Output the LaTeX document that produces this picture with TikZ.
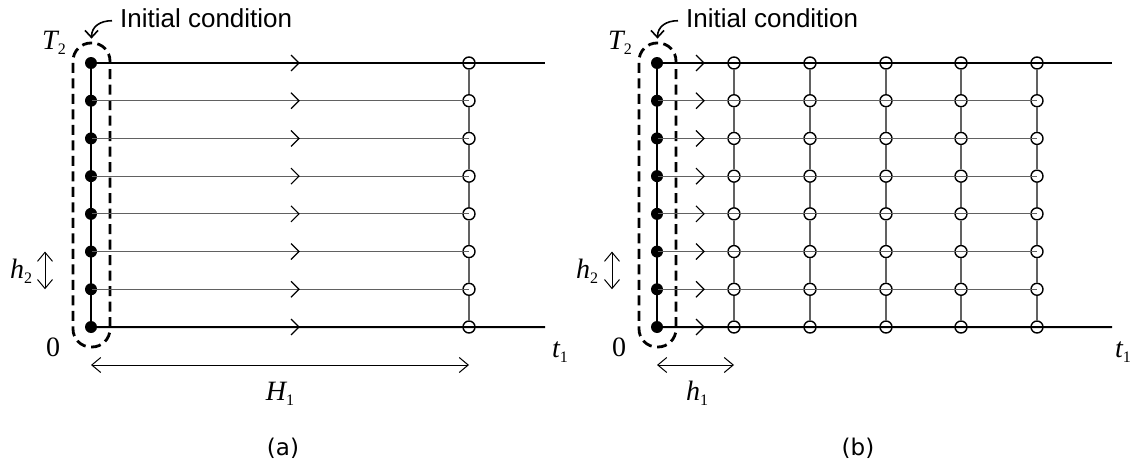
\documentclass[tikz,border=0pt]{standalone}
\usepackage{fontspec}
\setmainfont{Liberation Serif}
\newfontfamily\sansf{Liberation Sans}
\newfontfamily\capf{DejaVu Sans}
\usetikzlibrary{arrows.meta,calc}
\newcommand{\mlab}[2]{{\fontsize{28}{30}\selectfont\itshape #1}\raisebox{-5pt}{\fontsize{16}{18}\selectfont #2}}
\newcommand{\zlab}{{\fontsize{28}{30}\selectfont 0}}
\begin{document}
\begin{tikzpicture}[x=1pt,y=-1pt,
  thickln/.style={line width=2pt,black},
  thinln/.style={line width=1.2pt,black!62},
  vln/.style={line width=1.2pt,black!62},
  dotn/.style={circle,fill=black,inner sep=0,minimum size=12pt},
  odot/.style={circle,draw=black,line width=1.4pt,inner sep=0,minimum size=12pt},
  dashbox/.style={draw,line width=2.8pt,dash pattern=on 10pt off 5.5pt,rounded corners=18pt,minimum width=37pt,minimum height=304pt,inner sep=0},
  chev/.style={line width=1.2pt,black},
  dimarr/.style={line width=1pt,{Straight Barb[length=9pt,width=15pt]}-{Straight Barb[length=9pt,width=15pt]}},
  curvearr/.style={line width=1.6pt,-{Straight Barb[length=7pt,width=13pt]}},
  lab/.style={inner sep=0}]
\useasboundingbox (0,0) rectangle (1133,466);
% ---------------- panel (a)
\node[dashbox] (a-box) at (91.5,195) {};
\foreach \i in {0,...,7}{
  \pgfmathsetmacro\yy{63+\i*37.714}
  \node[dotn] (a-d-\i) at (91,\yy) {};
  \node[odot] (a-c-\i) at (469,\yy) {};
}
\coordinate (a-e-0) at (545,63);
\coordinate (a-e-7) at (545,327);
\foreach \i in {1,...,6}{
  \draw[thinln] (a-d-\i.center) -- (a-c-\i.center);
}
\draw[thickln] (a-d-0.center) -- (a-e-0);
\draw[thickln] (a-d-7.center) -- (a-e-7);
\draw[thickln] (a-d-0.center) -- (a-d-7.center);
\foreach \i [evaluate=\i as \j using int(\i+1)] in {0,...,6}{
  \draw[vln] (a-c-\i) -- (a-c-\j);
}
\foreach \i in {0,...,7}{
  \draw[chev] ($(a-d-\i)+(200,-8)$) -- ($(a-d-\i)+(208,0)$) -- ($(a-d-\i)+(200,8)$);
}
\node[lab,anchor=base west] (a-txt) at (120,27) {\sansf\fontsize{26}{30}\selectfont Initial condition};
\draw[curvearr] ([xshift=-8pt,yshift=-3pt]a-txt.west) .. controls +(-12,0) and +(0,-12) .. ([yshift=3pt]a-box.north);
\node[lab] (a-T) at (54,43) {\mlab{T}{2}};
\node[lab] (a-h) at (21,271) {\mlab{h}{2}};
\node[lab] (a-0) at (53,347) {\zlab};
\node[lab] (a-t) at (560,352) {\mlab{t}{1}};
\draw[dimarr] ($(a-d-5.center)+(-46,0)$) -- ($(a-d-6.center)+(-46,0)$);
\draw[dimarr] ([yshift=-38pt]a-d-7.center) -- ([yshift=-38pt]a-c-7.center);
\node[lab] (a-H) at (280,394) {\mlab{H}{1}};
\node[lab] (a-cap) at (283,448) {\capf\fontsize{23}{26}\selectfont (a)};
% ---------------- panel (b)
\node[dashbox] (b-box) at (657.5,195) {};
\foreach \i in {0,...,7}{
  \pgfmathsetmacro\yy{63+\i*37.714}
  \node[dotn] (b-d-\i) at (657,\yy) {};
  \foreach \x [count=\j] in {734,810,886,961,1037}{
    \node[odot] (b-c-\j-\i) at (\x,\yy) {};
  }
}
\coordinate (b-e-0) at (1112,63);
\coordinate (b-e-7) at (1112,327);
\foreach \i in {1,...,6}{
  \draw[thinln] (b-d-\i.center) -- (b-c-5-\i.center);
}
\draw[thickln] (b-d-0.center) -- (b-e-0);
\draw[thickln] (b-d-7.center) -- (b-e-7);
\draw[thickln] (b-d-0.center) -- (b-d-7.center);
\foreach \j in {1,...,5}{
  \foreach \i [evaluate=\i as \k using int(\i+1)] in {0,...,6}{
    \draw[vln] (b-c-\j-\i) -- (b-c-\j-\k);
  }
}
\foreach \i in {0,...,7}{
  \draw[chev] ($(b-d-\i)+(39,-8)$) -- ($(b-d-\i)+(47,0)$) -- ($(b-d-\i)+(39,8)$);
}
\node[lab,anchor=base west] (b-txt) at (686,27) {\sansf\fontsize{26}{30}\selectfont Initial condition};
\draw[curvearr] ([xshift=-8pt,yshift=-3pt]b-txt.west) .. controls +(-12,0) and +(0,-12) .. ([yshift=3pt]b-box.north);
\node[lab] (b-T) at (620,43) {\mlab{T}{2}};
\node[lab] (b-h) at (587,271) {\mlab{h}{2}};
\node[lab] (b-0) at (619,347) {\zlab};
\node[lab] (b-t) at (1123,352) {\mlab{t}{1}};
\draw[dimarr] ($(b-d-5.center)+(-45,0)$) -- ($(b-d-6.center)+(-45,0)$);
\draw[dimarr] ([yshift=-38pt]b-d-7.center) -- ([yshift=-38pt]b-c-1-7.center);
\node[lab] (b-hh) at (697,393) {\mlab{h}{1}};
\node[lab] (b-cap) at (858,448) {\capf\fontsize{23}{26}\selectfont (b)};
\end{tikzpicture}
\end{document}
